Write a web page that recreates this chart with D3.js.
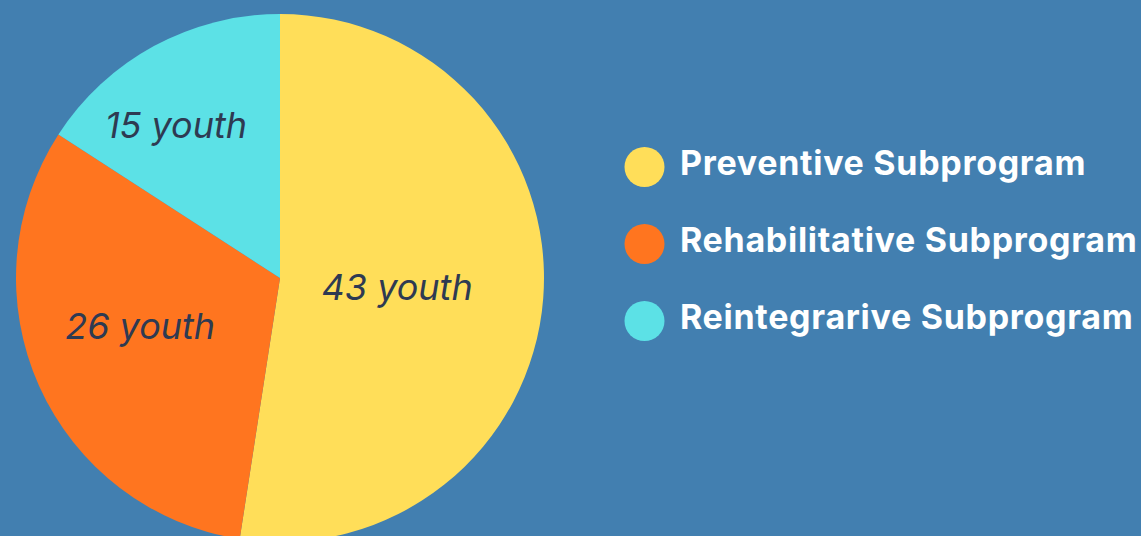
<!DOCTYPE html>
<html>
<head>
<meta charset="utf-8">
<script src="https://cdn.jsdelivr.net/npm/d3@7"></script>
<style>
  html, body { margin: 0; padding: 0; background: #427fb0; }
  svg { display: block; }
</style>
</head>
<body>
<svg id="chart" width="1141" height="536"></svg>
<script>
// Data
const categories = ["Preventive Subprogram", "Rehabilitative Subprogram", "Reintegrarive Subprogram"];
const sliceValues = [43, 26, 13];           // slice sizes as drawn
const sliceLabels = ["43 youth", "26 youth", "15 youth"];
const colors = ["#ffde59", "#ff751f", "#5ce1e6"];

const W = 1141, H = 536;
const svg = d3.select("#chart");
svg.append("rect").attr("width", W).attr("height", H).attr("fill", "#427fb0");

const cx = 280, cy = 278, R = 264;
const data = categories.map((c, i) => ({ cat: c, value: sliceValues[i], label: sliceLabels[i], color: colors[i] }));

const pie = d3.pie().sort(null).value(d => d.value).startAngle(0).endAngle(2 * Math.PI);
const arcs = pie(data);
const arc = d3.arc().innerRadius(0).outerRadius(R);

const g = svg.append("g").attr("transform", `translate(${cx},${cy})`);
g.selectAll("path.slice").data(arcs).enter().append("path")
  .attr("class", "slice")
  .attr("d", arc)
  .attr("fill", d => d.data.color);

const labelRadius = [0.445, 0.56, 0.70];
const angleShift = [0, 0.09, -0.1];
g.selectAll("text.lbl").data(arcs).enter().append("text")
  .attr("class", "lbl")
  .attr("x", (d, i) => { const a = (d.startAngle + d.endAngle) / 2 + angleShift[i]; return Math.sin(a) * R * labelRadius[i]; })
  .attr("y", (d, i) => { const a = (d.startAngle + d.endAngle) / 2 + angleShift[i]; return -Math.cos(a) * R * labelRadius[i]; })
  .attr("dy", "0.36em")
  .attr("text-anchor", "middle")
  .attr("font-family", "Inter, 'Open Sans', sans-serif")
  .attr("font-style", "italic")
  .attr("font-size", 36)
  .attr("fill", "#2e3a52")
  .text(d => d.data.label);

// Legend
const legend = svg.append("g");
const ly = d3.scalePoint().domain(categories).range([167, 321]);
const items = legend.selectAll("g.item").data(data).enter().append("g")
  .attr("class", "item")
  .attr("transform", d => `translate(0,${ly(d.cat)})`);
items.append("circle").attr("cx", 644.5).attr("cy", 0).attr("r", 20).attr("fill", d => d.color);
items.append("text")
  .attr("x", 680).attr("y", 8)
  .attr("font-family", "Inter, 'Open Sans', sans-serif")
  .attr("font-weight", 700)
  .attr("font-size", 34)
  .attr("letter-spacing", 0.7)
  .attr("fill", "#ffffff")
  .text(d => d.cat);
</script>
</body>
</html>
